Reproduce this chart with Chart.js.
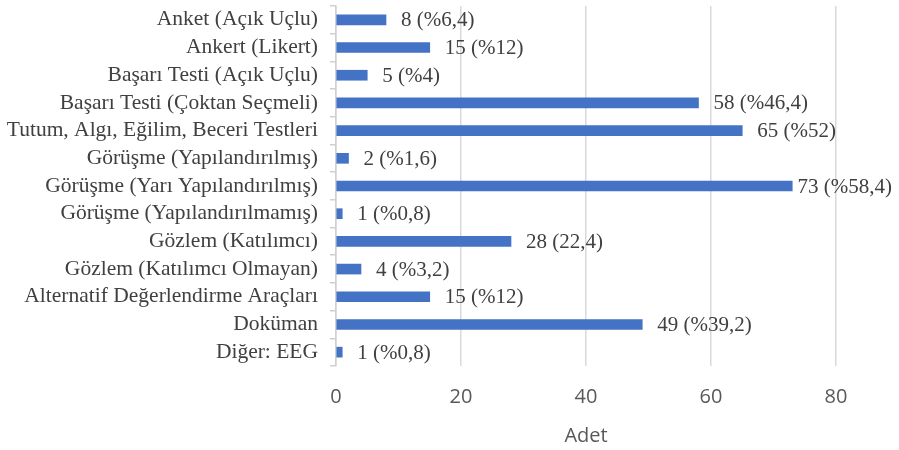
<!DOCTYPE html>
<html>
<head>
<meta charset="utf-8">
<script src="https://cdn.jsdelivr.net/npm/chart.js@4.4.0/dist/chart.umd.min.js"></script>
<style>
    html, body { margin: 0; padding: 0; background: #fff; }
    #chart { display: block; }
</style>
</head>
<body>
<canvas id="chart" width="899" height="450"></canvas>
<script>
    // Data
    var categories = [
        "Anket (Açık Uçlu)",
        "Ankert (Likert)",
        "Başarı Testi (Açık Uçlu)",
        "Başarı Testi (Çoktan Seçmeli)",
        "Tutum, Algı, Eğilim, Beceri Testleri",
        "Görüşme (Yapılandırılmış)",
        "Görüşme (Yarı Yapılandırılmış)",
        "Görüşme (Yapılandırılmamış)",
        "Gözlem (Katılımcı)",
        "Gözlem (Katılımcı Olmayan)",
        "Alternatif Değerlendirme Araçları",
        "Doküman",
        "Diğer: EEG"
    ];
    var counts = [8, 15, 5, 58, 65, 2, 73, 1, 28, 4, 15, 49, 1];
    var barLabels = [
        "8 (%6,4)", "15 (%12)", "5 (%4)", "58 (%46,4)", "65 (%52)", "2 (%1,6)",
        "73 (%58,4)", "1 (%0,8)", "28 (22,4)", "4 (%3,2)", "15 (%12)", "49 (%39,2)", "1 (%0,8)"
    ];
    var xTicks = [0, 20, 40, 60, 80];

    // Bar end labels
    var endLabels = {
        id: "endLabels",
        afterDatasetsDraw: function (chart) {
            var ctx = chart.ctx;
            var meta = chart.getDatasetMeta(0);
            ctx.save();
            ctx.font = "21px 'Liberation Serif'";
            ctx.fillStyle = "#404040";
            ctx.textAlign = "left";
            ctx.textBaseline = "middle";
            meta.data.forEach(function (bar, i) {
                var txt = barLabels[i];
                var w = ctx.measureText(txt).width;
                var x = Math.min(bar.x + 15, chart.width - w - 7);
                ctx.fillText(txt, x, bar.y + 1);
            });
            ctx.restore();
        }
    };

    var ctx = document.getElementById("chart").getContext("2d");
    var myChart = new Chart(ctx, {
        type: "bar",
        data: {
            labels: categories,
            datasets: [{
                data: counts,
                backgroundColor: "#4472c4",
                barThickness: 10
            }]
        },
        options: {
            indexAxis: "y",
            responsive: false,
            animation: false,
            layout: { padding: { top: 6, right: 63, left: 0, bottom: 0 } },
            plugins: {
                legend: { display: false },
                tooltip: { enabled: false }
            },
            scales: {
                x: {
                    min: 0,
                    max: 80,
                    afterBuildTicks: function (scale) {
                        scale.ticks = xTicks.map(function (v) { return { value: v }; });
                    },
                    afterFit: function (scale) { scale.height = 84; },
                    grid: { color: "#d9d9d9", lineWidth: 1.5, drawTicks: false },
                    border: { display: false },
                    ticks: {
                        padding: 19,
                        color: "#595959",
                        font: { family: "'Open Sans'", size: 20 }
                    },
                    title: {
                        display: true,
                        text: "Adet",
                        color: "#595959",
                        font: { family: "'Open Sans'", size: 20 },
                        padding: { top: 4, bottom: 2 }
                    }
                },
                y: {
                    afterFit: function (scale) {
                        scale.width = 336;
                        scale.paddingTop = 0;
                        scale.paddingBottom = 0;
                    },
                    grid: {
                        offset: true,
                        drawOnChartArea: false,
                        color: "#d0d0d0",
                        lineWidth: 1.5,
                        tickLength: 6
                    },
                    border: { color: "#d0d0d0", width: 1.5 },
                    ticks: {
                        autoSkip: false,
                        padding: 12,
                        color: "#404040",
                        font: { family: "'Liberation Serif'", size: 21.5 }
                    }
                }
            }
        },
        plugins: [endLabels]
    });
</script>
</body>
</html>
